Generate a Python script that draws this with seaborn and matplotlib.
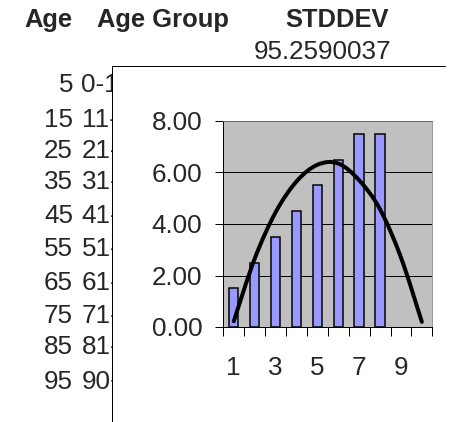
import numpy as np
import pandas as pd
import matplotlib
matplotlib.use("Agg")
import matplotlib.pyplot as plt
from matplotlib.path import Path
from matplotlib.patches import PathPatch, Rectangle
from matplotlib.lines import Line2D
import seaborn as sns

# spreadsheet cells behind the chart
headers = ["Age", "Age Group", "STDDEV"]
stddev_value = "95.2590037"
ages = ["5", "15", "25", "35", "45", "55", "65", "75", "85", "95"]
age_groups = ["0-10", "11-20", "21-30", "31-40", "41-50", "51-60", "61-70", "71-80", "81-90", "90+"]

# chart data
categories = ["1", "2", "3", "4", "5", "6", "7", "8", "9", "10"]
bar_values = [1.5, 2.5, 3.5, 4.5, 5.5, 6.5, 7.5, 7.5]
curve_values = [0.22, 2.65, 4.45, 5.65, 6.3, 6.35, 5.7, 4.57, 2.7, 0.2]
y_ticks = [0, 2, 4, 6, 8]
x_labels = ["1", "3", "5", "7", "9"]

sns.set_style("ticks")
plt.rcParams['font.family'] = ['Liberation Sans', 'DejaVu Sans']

W, H = 454, 422
fig = plt.figure(figsize=(W / 72, H / 72), dpi=72)
fs = 26

# header row and cell texts (drawn under the chart)
fig.text(48 / W, 1 - 20 / H, headers[0], fontsize=25.5, fontweight='bold', ha='center', va='center', zorder=1)
fig.text(97 / W, 1 - 20 / H, headers[1], fontsize=25.5, fontweight='bold', ha='left', va='center', zorder=1)
fig.text(337 / W, 1 - 20 / H, headers[2], fontsize=25.5, fontweight='bold', ha='center', va='center', zorder=1)
fig.text(391 / W, 1 - 52 / H, stddev_value, fontsize=fs, ha='right', va='center', zorder=1)

row_y = [85, 120, 151, 182, 216, 249, 283, 316, 347, 382]
for age, grp, y in zip(ages, age_groups, row_y):
    fig.text(73 / W, 1 - y / H, age, fontsize=fs, ha='right', va='center', zorder=1)
    fig.text(81.5 / W, 1 - y / H, grp, fontsize=fs, ha='left', va='center', zorder=1)

# chart area (white) covering the cells, with its left and top border
top = 1 - 65.5 / H
fig.patches.append(Rectangle((112 / W, -0.1), 1.0, 0.1 + top, transform=fig.transFigure,
                             facecolor='white', edgecolor='none', zorder=2))
fig.lines.append(Line2D([112 / W, 112 / W], [-0.01, top], transform=fig.transFigure, color='black', lw=1, zorder=2.5))
fig.lines.append(Line2D([112 / W, 445 / W], [top, top], transform=fig.transFigure, color='black', lw=1, zorder=2.5))

ax = fig.add_axes([223.3 / W, 1 - 327 / H, 209 / W, 206 / H], zorder=3)
ax.set_facecolor('#C0C0C0')

df = pd.DataFrame({'cat': categories[:len(bar_values)], 'value': bar_values})
sns.barplot(data=df, x='cat', y='value', order=categories, color='#9999FF', saturation=1,
            width=0.45, edgecolor='black', linewidth=1.5, ax=ax)

# smoothed line (Excel-style bezier through the points)
pts = np.column_stack([np.arange(len(curve_values)), curve_values])
ext = np.vstack([pts[0], pts, pts[-1]])
verts = [tuple(pts[0])]
codes = [Path.MOVETO]
for i in range(1, len(ext) - 2):
    p0, p1, p2, p3 = ext[i - 1], ext[i], ext[i + 1], ext[i + 2]
    c1 = p1 + (p2 - p0) / 6
    c2 = p2 - (p3 - p1) / 6
    verts += [tuple(c1), tuple(c2), tuple(p2)]
    codes += [Path.CURVE4] * 3
ax.add_patch(PathPatch(Path(verts, codes), facecolor='none', edgecolor='black', lw=4, capstyle='round', zorder=4))

ax.set_xlim(-0.5, 9.5)
ax.set_ylim(0, 8)
ax.set_yticks(y_ticks)
ax.set_yticklabels([f"{v:.2f}" for v in y_ticks], fontsize=fs)
ax.set_xticks(np.arange(-0.5, 10, 1))
ax.set_xticklabels([])
ax.set_xticks(np.arange(0, 10, 2), x_labels, minor=True)
ax.tick_params(axis='x', which='minor', length=0, labelsize=fs, pad=29)
ax.tick_params(axis='x', which='major', length=9, width=1, color='black')
ax.tick_params(axis='y', length=8, width=1, color='black', pad=13)
ax.yaxis.grid(True, color='black', lw=1)
ax.set_axisbelow(True)
ax.set_xlabel("")
ax.set_ylabel("")
for side in ['top', 'right']:
    ax.spines[side].set_color('#808080')
    ax.spines[side].set_visible(True)
for side in ['left', 'bottom']:
    ax.spines[side].set_color('black')
    ax.spines[side].set_linewidth(1)

fig.savefig("out.png", dpi=72)
